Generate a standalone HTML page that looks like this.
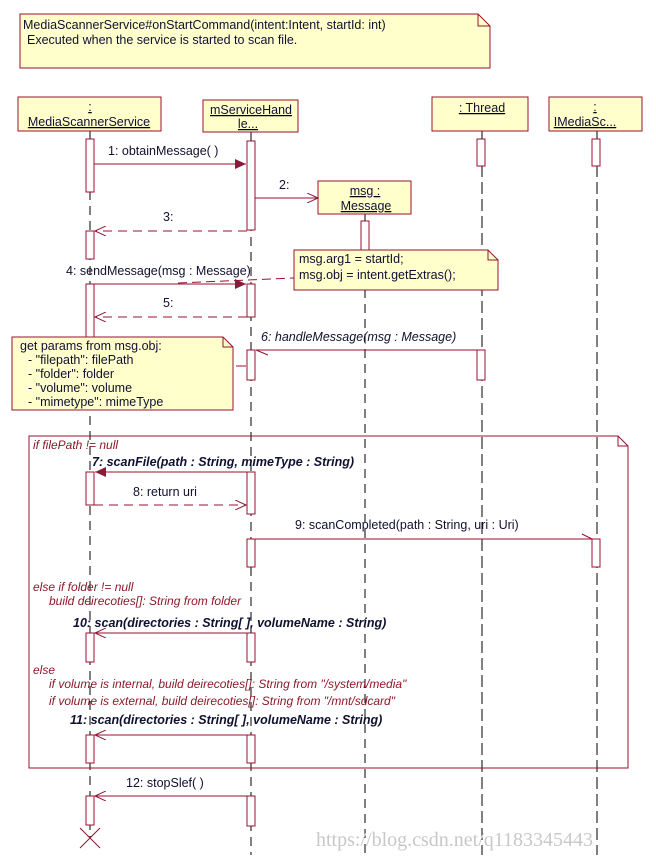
<!DOCTYPE html>
<html><head><style>
html,body{margin:0;padding:0;background:#fff;}
svg{display:block;font-family:"Liberation Sans","DejaVu Sans",sans-serif;}
text{font-size:12.5px;fill:#101030;}
.c{fill:#8b1a2a;font-style:italic;font-size:12px;}
.b{font-weight:bold;font-style:italic;}
</style></head><body>
<svg width="656" height="860" viewBox="0 0 656 860" xmlns="http://www.w3.org/2000/svg">
<defs>
<marker id="f" markerWidth="12" markerHeight="10" refX="11" refY="5" orient="auto" markerUnits="userSpaceOnUse"><path d="M0,0 L11,5 L0,10 z" fill="#8b1a3a"/></marker>
<marker id="o" markerWidth="12" markerHeight="10" refX="11" refY="5" orient="auto" markerUnits="userSpaceOnUse"><path d="M0,0 L11,5 L0,10" fill="none" stroke="#8b1a3a"/></marker>
</defs>
<g stroke="#9b1030" fill="#ffffcc">
<path d="M20,14 H478 L490,26 V68 H20 Z"/><path d="M478,14 V26 H490" fill="none"/>
</g>
<text x="23" y="29">MediaScannerService#onStartCommand(intent:Intent, startId: int)</text>
<text x="27" y="44">Executed when the service is started to scan file.</text>
<g stroke="#000" stroke-dasharray="9,6" stroke-width="1">
<line x1="90" y1="131" x2="90" y2="838"/>
<line x1="251" y1="132" x2="251" y2="855"/>
<line x1="365" y1="214" x2="365" y2="855"/>
<line x1="482" y1="131" x2="482" y2="855" stroke-dasharray="12,5"/>
<line x1="597" y1="131" x2="597" y2="855" stroke-dasharray="12,5"/>
</g>
<g stroke="#9b1030" fill="#ffffcc">
<rect x="18" y="97" width="143" height="34"/>
<rect x="203" y="100" width="95" height="32"/>
<rect x="432" y="97" width="96" height="34"/>
<rect x="549" y="97" width="93" height="34"/>
<rect x="318" y="181" width="93" height="33"/>
</g>
<g text-decoration="underline" text-anchor="middle">
<text x="90" y="111">:</text><text x="89" y="126">MediaScannerService</text>
<text x="251" y="114">mServiceHand</text><text x="248" y="128">le...</text>
<text x="482" y="112">: Thread</text>
<text x="595" y="111">:</text><text x="585" y="126">IMediaSc...</text>
<text x="365" y="195">msg :</text><text x="366" y="210">Message</text>
</g>
<g stroke="#9b1030" fill="none">
<path d="M29,436 H618 L628,446 V768 H29 Z"/><path d="M618,436 V446 H628"/>
</g>
<g stroke="#9b1030" fill="#fff">
<rect x="86" y="139" width="8" height="53"/><rect x="86" y="231" width="8" height="28"/><rect x="86" y="284" width="8" height="60"/>
<rect x="86" y="472" width="8" height="33"/><rect x="86" y="633" width="8" height="29"/><rect x="86" y="735" width="8" height="28"/><rect x="86" y="796" width="8" height="29"/>
<rect x="247" y="141" width="8" height="89"/><rect x="247" y="284" width="8" height="33"/><rect x="247" y="350" width="8" height="30"/>
<rect x="247" y="472" width="8" height="42"/><rect x="247" y="539" width="8" height="28"/><rect x="247" y="633" width="8" height="29"/><rect x="247" y="735" width="8" height="28"/><rect x="247" y="796" width="8" height="30"/>
<rect x="361" y="221" width="8" height="29"/>
<rect x="477" y="139" width="8" height="27"/><rect x="477" y="350" width="8" height="30"/>
<rect x="592" y="139" width="8" height="27"/><rect x="592" y="539" width="8" height="28"/>
</g>
<g stroke="#9b1030" fill="none">
<line x1="94" y1="164" x2="246" y2="164" marker-end="url(#f)"/>
<line x1="255" y1="198" x2="318" y2="198" marker-end="url(#o)"/>
<line x1="247" y1="231" x2="95" y2="231" stroke-dasharray="9,6" marker-end="url(#o)"/>
<line x1="94" y1="284" x2="246" y2="284" marker-end="url(#f)"/>
<line x1="247" y1="317" x2="95" y2="317" stroke-dasharray="9,6" marker-end="url(#o)"/>
<line x1="477" y1="350" x2="256" y2="350"/><path d="M256,350 L268,355"/>
<line x1="247" y1="472" x2="95" y2="472" marker-end="url(#f)"/>
<line x1="94" y1="505" x2="246" y2="505" stroke-dasharray="9,6" marker-end="url(#o)"/>
<line x1="255" y1="539" x2="592" y2="539"/><path d="M582,534 L592,539"/>
<line x1="247" y1="633" x2="95" y2="633" marker-end="url(#o)"/>
<line x1="247" y1="735" x2="95" y2="735" marker-end="url(#o)"/>
<line x1="247" y1="796" x2="95" y2="796" marker-end="url(#o)"/>
<line x1="178" y1="283" x2="294" y2="278" stroke-dasharray="9,5"/>
<line x1="236" y1="366" x2="246" y2="366"/>
<path d="M80,828 L100,848 M100,828 L80,848"/>
</g>
<g stroke="#9b1030" fill="#ffffcc">
<path d="M294,250 H488 L498,260 V290 H294 Z"/><path d="M488,250 V260 H498" fill="none"/>
<path d="M12,337 H223 L233,347 V410 H12 Z"/><path d="M223,337 V347 H233" fill="none"/>
</g>
<text x="299" y="263">msg.arg1 = startId;</text>
<text x="299" y="279">msg.obj = intent.getExtras();</text>
<text x="20" y="350">get params from msg.obj:</text>
<text x="28" y="364">- "filepath": filePath</text>
<text x="28" y="378">- "folder": folder</text>
<text x="28" y="392">- "volume": volume</text>
<text x="28" y="406">- "mimetype": mimeType</text>
<text x="108" y="155">1: obtainMessage( )</text>
<text x="279" y="189">2:</text>
<text x="163" y="221">3:</text>
<text x="66" y="275">4: sendMessage(msg : Message)</text>
<text x="163" y="307">5:</text>
<text x="261" y="341" font-style="italic">6: handleMessage(msg : Message)</text>
<text x="92" y="466" class="b">7: scanFile(path : String, mimeType : String)</text>
<text x="133" y="496">8: return uri</text>
<text x="295" y="529">9: scanCompleted(path : String, uri : Uri)</text>
<text x="73" y="627" class="b">10: scan(directories : String[ ], volumeName : String)</text>
<text x="70" y="724" class="b">11: scan(directories : String[ ], volumeName : String)</text>
<text x="126" y="787">12: stopSlef( )</text>
<text x="33" y="449" class="c">if filePath != null</text>
<text x="33" y="591" class="c">else if folder != null</text>
<text x="49" y="605" class="c">build deirecoties[]: String from folder</text>
<text x="33" y="674" class="c">else</text>
<text x="49" y="688" class="c">if volume is internal, build deirecoties[]: String from "/system/media"</text>
<text x="49" y="705" class="c">if volume is external, build deirecoties[]: String from "/mnt/sdcard"</text>
<text x="316" y="846" style="font-family:'Liberation Serif',serif;font-size:20px;fill:#c8c8c8">https://blog.csdn.net/q1183345443</text>
</svg>
</body></html>
